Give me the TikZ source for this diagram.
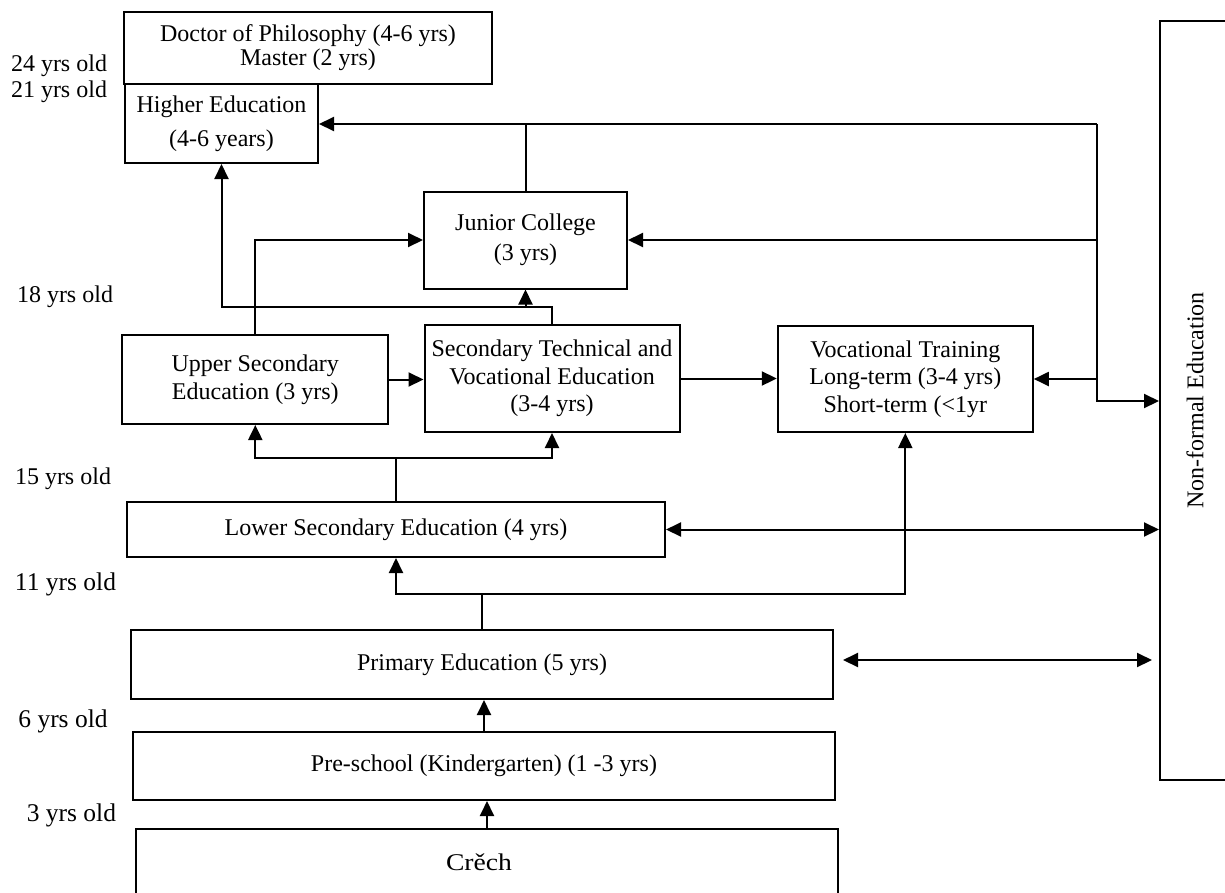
\documentclass[tikz,border=0pt]{standalone}
\usepackage{fontspec}
\setmainfont{Liberation Serif}
\usetikzlibrary{arrows.meta}
\newcommand\bxfont{\fontsize{24}{27.6}\selectfont}
\newcommand\agefont{\fontsize{25.5}{28}\selectfont}
\begin{document}
\begin{tikzpicture}[x=1pt,y=-1pt,
  box/.style={draw, line width=2pt, align=center, inner sep=2pt, font=\bxfont},
  lbl/.style={font=\bxfont, inner sep=0pt},
  lblbig/.style={font=\agefont, inner sep=0pt},
  ln/.style={line width=2pt},
  arr/.style={line width=2pt, -{Triangle[length=15pt,width=14pt]}},
  arr2/.style={line width=2pt, {Triangle[length=15pt,width=14pt]}-{Triangle[length=15pt,width=14pt]}}]
\useasboundingbox (0,0) rectangle (1225,892);
\clip (0,0) rectangle (1225,892);

% education stages
\node[box, minimum width=368pt, minimum height=72pt] (phd) at (308,48)
  {Doctor of Philosophy (4-6 yrs)\\[-3.6pt]Master (2 yrs)};
\node[box, minimum width=193pt, minimum height=79pt] (higher) at (221.5,123.5)
  {Higher Education\\[6.4pt](4-6 years)};
\node[box, minimum width=203pt, minimum height=97pt] (jc) at (525.5,240)
  {Junior College\\[2.4pt](3 yrs)};
\node[box, minimum width=266pt, minimum height=89pt] (upper) at (255.3,379.5)
  {Upper Secondary\\Education (3 yrs)};
\node[box, minimum width=255pt, minimum height=107pt] (sectech) at (552,378.5)
  {Secondary Technical and\\Vocational Education\\(3-4 yrs)};
\node[box, minimum width=255pt, minimum height=106pt] (voc) at (905.3,379)
  {Vocational Training\\Long-term (3-4 yrs)\\Short-term (<1yr};
\node[box, minimum width=538pt, minimum height=55pt] (lower) at (396,529.5)
  {Lower Secondary Education (4 yrs)};
\node[box, minimum width=702pt, minimum height=69pt] (primary) at (482,664.5)
  {Primary Education (5 yrs)};
\node[box, minimum width=702pt, minimum height=68pt] (preschool) at (484,766)
  {Pre-school (Kindergarten) (1 -3 yrs)};
\node[box, minimum width=702pt, minimum height=66pt] (crech) at (487,862)
  {\hspace*{-16pt}\scalebox{1.15}[1]{Crěch}};
\node[box, minimum width=70pt, minimum height=759pt] (nonformal) at (1195,400.5)
  {\rotatebox{90}{Non-formal Education}};

% ages
\node[lbl] (a24) at (59,66) {24 yrs old};
\node[lbl] (a21) at (59,92) {21 yrs old};
\node[lbl] (a18) at (65,297) {18 yrs old};
\node[lbl] (a15) at (63,479) {15 yrs old};
\node[lblbig] (a11) at (65.5,584) {11 yrs old};
\node[lblbig] (a6) at (63,721) {6 yrs old};
\node[lblbig] (a3) at (71.4,815) {3 yrs old};

% routing levels
\coordinate (bus) at (1096.7,124);
\coordinate (lvA) at (0,307);
\coordinate (lvB) at (0,458);
\coordinate (lvC) at (0,594);
\coordinate (lvD) at (0,660);
\coordinate (lvN) at (0,401);

% links from non-formal education
\draw[ln] (jc.north) -- (jc.north |- bus);
\draw[arr] (bus) -- (bus -| higher.east);
\draw[arr] (bus) |- (nonformal.west |- lvN);
\draw[arr] (bus |- jc.east) -- (jc.east);
\draw[arr] (bus |- voc.east) -- (voc.east);

% upper level links
\draw[arr] (sectech.north) -- (sectech.north |- lvA) -| (higher.south);
\draw[arr] (jc.south |- lvA) -- (jc.south);
\draw[arr] (upper.north) |- (jc.west);
\draw[arr] (upper.east) -- (upper.east -| sectech.west);
\draw[arr] (sectech.east) -- (sectech.east -| voc.west);

% lower secondary branches
\draw[ln] (lower.north) -- (lower.north |- lvB);
\draw[arr] (lower.north |- lvB) -| (upper.south);
\draw[arr] (lower.north |- lvB) -| (sectech.south);
\draw[arr2] (lower.east) -- (lower.east -| nonformal.west);

% primary branches
\draw[ln] (primary.north) -- (primary.north |- lvC);
\draw[arr] (primary.north |- lvC) -| (lower.south);
\draw[arr] (primary.north |- lvC) -| (voc.south);
\draw[arr2, shorten <=9pt, shorten >=7pt] (primary.east |- lvD) -- (nonformal.west |- lvD);

% early years
\draw[arr] (preschool.north) -- (preschool.north |- primary.south);
\draw[arr] (crech.north) -- (crech.north |- preschool.south);
\end{tikzpicture}
\end{document}
